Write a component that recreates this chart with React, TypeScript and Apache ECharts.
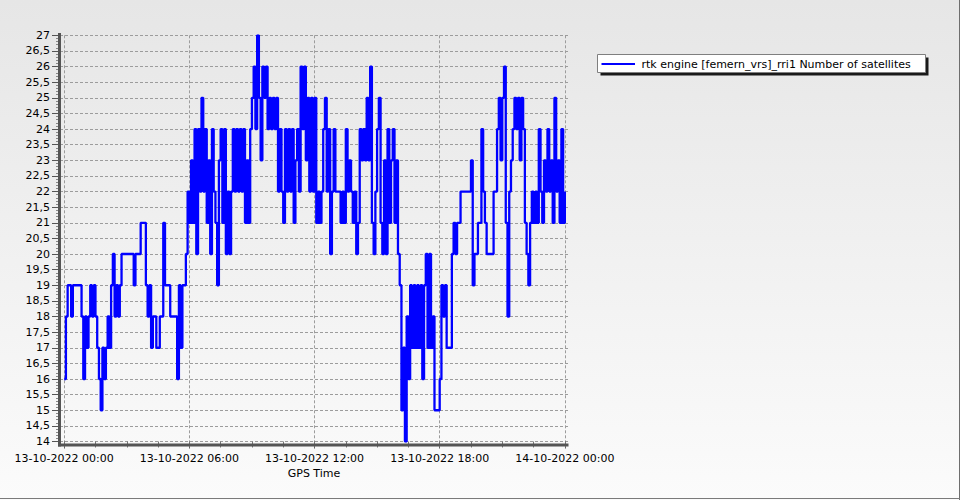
import React, { useEffect, useRef } from "react";
import * as echarts from "echarts";

// ---- data -------------------------------------------------------------
const START_UTC = Date.UTC(2022, 9, 13, 0, 0, 0); // 13-10-2022 00:00
const STEP_MINUTES = 5;

// Number of satellites, one reading per 5 minutes
const satellites: number[] = [
  16, 18, 19, 19, 18, 19, 19, 19, 19, 19,
  18, 16, 18, 17, 18, 19, 18, 19, 18, 17,
  16, 15, 17, 16, 17, 18, 17, 19, 20, 18,
  19, 18, 19, 20, 20, 20, 20, 20, 20, 20,
  19, 20, 20, 20, 21, 21, 21, 19, 18, 19,
  17, 18, 18, 17, 17, 18, 18, 21, 19, 19,
  19, 18, 18, 18, 18, 16, 19, 17, 19, 19,
  20, 22, 21, 23, 21, 24, 20, 24, 22, 25,
  22, 24, 21, 23, 20, 24, 22, 21, 19, 23,
  24, 21, 24, 20, 22, 20, 22, 24, 22, 24,
  22, 24, 22, 24, 21, 23, 21, 24, 25, 26,
  24, 27, 25, 23, 26, 25, 26, 24, 25, 24,
  25, 24, 25, 22, 24, 22, 21, 24, 22, 24,
  22, 24, 21, 23, 24, 22, 26, 24, 26, 23,
  25, 22, 25, 22, 25, 21, 22, 21, 22, 24,
  25, 22, 24, 20, 22, 24, 22, 22, 22, 21,
  22, 21, 24, 22, 23, 22, 21, 22, 20, 21,
  24, 23, 24, 23, 25, 23, 26, 21, 20, 22,
  24, 25, 21, 20, 23, 20, 24, 21, 23, 24,
  21, 23, 20, 19, 15, 17, 14, 18, 16, 19,
  17, 19, 17, 19, 17, 19, 16, 19, 20, 17,
  20, 17, 18, 15, 15, 15, 16, 19, 18, 19,
  17, 17, 17, 20, 21, 20, 21, 21, 22, 22,
  22, 22, 22, 22, 23, 19, 20, 20, 21, 21,
  24, 22, 21, 20, 20, 20, 20, 22, 22, 24,
  25, 23, 25, 26, 21, 18, 22, 23, 24, 25,
  24, 25, 23, 25, 24, 21, 20, 19, 21, 22,
  21, 22, 21, 24, 22, 21, 23, 22, 24, 22,
  23, 21, 25, 22, 23, 21, 24, 21, 22,
];

const xLabelHours: number[] = [0, 6, 12, 18, 24];
const xMinorTickHours: number[] = [
  0, 1.5, 3, 4.5, 6, 7.5, 9, 10.5, 12, 13.5, 15, 16.5, 18, 19.5, 21, 22.5, 24,
];
const seriesName = "rtk engine [femern_vrs]_rri1 Number of satellites";
const xAxisTitle = "GPS Time";

// ---- helpers ----------------------------------------------------------
const MINUTE = 60 * 1000;
const HOUR = 60 * MINUTE;
const FONT = "'DejaVu Sans', Verdana, sans-serif";

function pad(n: number) {
  return n < 10 ? "0" + n : String(n);
}
function fmtTime(ms: number) {
  const d = new Date(Math.round(ms));
  return (
    pad(d.getUTCDate()) + "-" + pad(d.getUTCMonth() + 1) + "-" + d.getUTCFullYear() +
    " " + pad(d.getUTCHours()) + ":" + pad(d.getUTCMinutes())
  );
}

export default function App() {
  const ref = useRef<HTMLDivElement>(null);

  useEffect(() => {
    if (!ref.current) return;
    const chart = echarts.init(ref.current, undefined, { renderer: "svg" });

    const seriesData = satellites.map((v, i) => [START_UTC + i * STEP_MINUTES * MINUTE, v]);
    const xMin = START_UTC - 12 * MINUTE;
    const xMax = START_UTC + 24 * HOUR + 9 * MINUTE;
    const majorTicks = xLabelHours.map((h) => START_UTC + h * HOUR);
    const minorTicks = xMinorTickHours.map((h) => START_UTC + h * HOUR);

    const option: any = {
      animation: false,
      backgroundColor: {
        type: "linear", x: 0, y: 0, x2: 0, y2: 1,
        colorStops: [
          { offset: 0, color: "#e6e6e6" },
          { offset: 1, color: "#fbfbfb" },
        ],
      },
      grid: {
        left: 60, right: 392, top: 35.3, bottom: 58.5,
        containLabel: false, outerBoundsMode: "none",
      },
      xAxis: [
        {
          type: "value", min: xMin, max: xMax, position: "bottom", scale: true,
          axisLine: { show: false },
          axisTick: {
            show: true, length: 7, customValues: majorTicks,
            lineStyle: { color: "#555", width: 1 },
          },
          axisLabel: {
            customValues: majorTicks,
            formatter: (v: number) => fmtTime(v),
            fontFamily: FONT, fontSize: 11, color: "#000", margin: 11, hideOverlap: false,
          },
          splitLine: { show: true, lineStyle: { color: "#9c9c9c", width: 1, type: [3, 2] } },
          name: xAxisTitle, nameLocation: "middle", nameGap: 25,
          nameTextStyle: { fontFamily: FONT, fontSize: 11, color: "#000" },
        },
        {
          type: "value", min: xMin, max: xMax, position: "bottom", scale: true,
          axisLine: { show: false },
          axisTick: {
            show: true, length: 6, customValues: minorTicks,
            lineStyle: { color: "#777", width: 1 },
          },
          axisLabel: { show: false },
          splitLine: { show: false },
        },
      ],
      yAxis: {
        type: "value", min: 14, max: 27, interval: 0.5,
        axisLine: { show: false },
        axisTick: { show: true, length: 8, lineStyle: { color: "#555" } },
        minorTick: { show: true, splitNumber: 5, length: 4, lineStyle: { color: "#888" } },
        axisLabel: {
          formatter: (v: number) => String(v).replace(".", ","),
          fontFamily: FONT, fontSize: 11, color: "#000", margin: 10,
        },
        splitLine: { show: true, lineStyle: { color: "#9c9c9c", width: 1, type: [3, 2] } },
      },
      series: [
        {
          type: "line", name: seriesName, xAxisIndex: 0, data: seriesData,
          step: "end", showSymbol: false, symbol: "none",
          lineStyle: { color: "#0000ff", width: 2.3 },
          itemStyle: { color: "#0000ff" },
        },
      ],
      graphic: [
        // axis frame
        { type: "line", z: 100, shape: { x1: 59.5, y1: 33, x2: 59.5, y2: 446.5 }, style: { stroke: "#555", lineWidth: 3 } },
        { type: "line", z: 100, shape: { x1: 58, y1: 445, x2: 568.5, y2: 445 }, style: { stroke: "#555", lineWidth: 3 } },
        // outer border (right & bottom)
        { type: "line", z: 100, shape: { x1: 959.5, y1: 0, x2: 959.5, y2: 500 }, style: { stroke: "#6e6e6e", lineWidth: 1 } },
        { type: "line", z: 100, shape: { x1: 0, y1: 498.5, x2: 960, y2: 498.5 }, style: { stroke: "#7a7a7a", lineWidth: 1 } },
        // legend
        { type: "rect", z: 100, shape: { x: 600.5, y: 57.5, width: 328, height: 18 }, style: { fill: "#1a1a1a" } },
        { type: "rect", z: 101, shape: { x: 597.5, y: 54.5, width: 328, height: 18 }, style: { fill: "#ffffff", stroke: "#7f7f7f", lineWidth: 1 } },
        { type: "line", z: 102, shape: { x1: 601.5, y1: 64, x2: 635, y2: 64 }, style: { stroke: "#0000ff", lineWidth: 2 } },
        {
          type: "text", z: 102, x: 641.5, y: 64.5,
          style: { text: seriesName, font: "11px " + FONT, fill: "#000", verticalAlign: "middle", align: "left" },
        },
      ],
    };

    chart.setOption(option);
    return () => chart.dispose();
  }, []);

  return (
    <div
      ref={ref}
      style={{ position: "fixed", left: 0, top: 0, width: 960, height: 500 }}
    />
  );
}
